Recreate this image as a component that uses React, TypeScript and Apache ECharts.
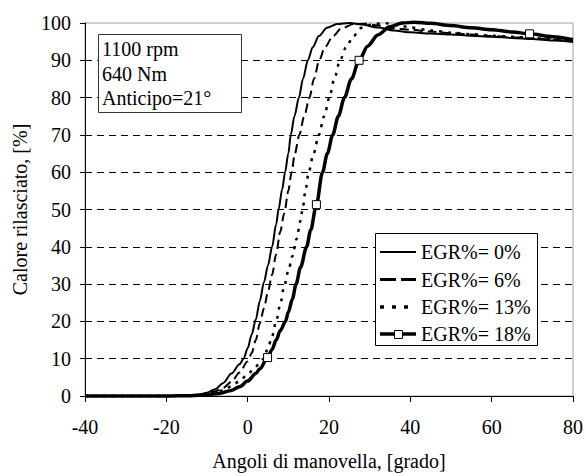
import React, { useEffect, useRef } from "react";
import * as echarts from "echarts";

const FAMILY = "Liberation Serif";

const seriesNames = ["EGR%= 0%", "EGR%= 6%", "EGR%= 13%", "EGR%= 18%"];

const egr0X = [-40, -30, -20, -15, -12, -10, -8, -6, -4, -2, -1, 0, 1, 2, 3, 4, 5, 6, 7, 7.6, 8.5, 9.2, 10, 10.6, 11.5, 12.6, 13.6, 14.8, 16, 17.5, 19.5, 22, 25, 28, 32, 36, 40, 45, 50, 55, 60, 65, 70, 75, 80];
const egr0Y = [0, 0, 0, 0.1, 0.4, 0.9, 1.8, 3.5, 6, 8.5, 10, 12.8, 16.5, 20.5, 25.5, 30.5, 35, 40, 46, 50, 55.5, 60, 65, 70, 75, 80, 85, 90, 93.5, 96.5, 98.7, 99.7, 100, 99.6, 98.8, 98, 97.5, 97.2, 96.9, 96.6, 96.3, 96, 95.7, 95.3, 94.9];

const egr6X = [-40, -20, -15, -12, -10, -8, -6, -4, -2, 0, 1, 2, 3, 4, 5, 6, 7, 8, 9, 10, 10.8, 11.6, 12.7, 13.9, 15.2, 16.3, 17.6, 19, 21, 23, 26, 29, 32, 36, 40, 45, 50, 55, 60, 65, 70, 75, 80];
const egr6Y = [0, 0, 0.1, 0.3, 0.6, 1.2, 2.2, 3.8, 6.3, 9.3, 11.5, 15, 19.5, 23.5, 28, 32.5, 38, 44, 49, 55, 60, 65, 70, 75, 80, 85, 90, 93.5, 96.5, 98.5, 99.7, 99.8, 99.3, 98.6, 98.2, 97.7, 97.3, 96.9, 96.5, 96.2, 95.9, 95.5, 95.1];

const egr13X = [-40, -20, -14, -10, -8, -6, -4, -2, 0, 2, 4, 5, 6, 7, 8, 9, 10, 11, 12, 13, 13.5, 14.2, 15, 16.2, 17.5, 18.8, 20.1, 21.3, 22.7, 24.2, 26, 28, 31, 34, 37, 40, 45, 50, 55, 60, 65, 70, 75, 80];
const egr13Y = [0, 0, 0.1, 0.5, 0.9, 1.6, 2.6, 4, 5.8, 8, 10, 13, 16, 20, 24.5, 29.5, 33.5, 37.5, 42, 47, 50, 55, 60, 65, 70, 75, 80, 85, 90, 93.5, 96.5, 98.7, 99.8, 99.9, 99.4, 98.8, 98, 97.4, 97, 96.6, 96.3, 96, 95.6, 95.3];

const egr18X = [-40, -20, -14, -10, -7, -4, -2, 0, 2, 3, 4.9, 6, 7, 8, 9.3, 10, 11, 11.9, 13, 14.5, 15.5, 16.9, 18.4, 19.6, 20.9, 22.3, 23.8, 25.5, 27.4, 29.5, 32, 35, 38, 41, 45, 50, 55, 60, 65, 69.3, 75, 80];
const egr18Y = [0, 0, 0.1, 0.3, 0.7, 1.5, 2.5, 4, 6, 7.3, 10.3, 12.5, 15, 17.5, 20, 22.5, 26, 30, 34.5, 40, 44.5, 51.3, 60, 65, 70, 75, 80, 85, 90, 93.8, 96.8, 99, 100, 100.2, 99.9, 99.3, 98.7, 98.2, 97.6, 97.1, 96.3, 95.5];
const egr18MarkerX = [4.9, 16.9, 27.4, 69.3];

const infoLines = ["1100 rpm", "640 Nm", "Anticipo=21°"];
const xAxisTitle = "Angoli di manovella, [grado]";
const yAxisTitle = "Calore rilasciato, [%]";

const lineDefs = [
  { width: 2, type: "solid" as any, legendType: null as any, legendWidth: 2 },
  { width: 2, type: [9, 5], legendType: [16, 5], legendWidth: 3 },
  { width: 2.5, type: [3, 6], legendType: [4, 8], legendWidth: 3.5 },
  { width: 3.5, type: "solid" as any, legendType: null as any, legendWidth: 3.5 },
];

export default function App() {
  const ref = useRef<HTMLDivElement>(null);
  useEffect(() => {
    const chart = echarts.init(ref.current!, null, { renderer: "svg" });
    const xs = [egr0X, egr6X, egr13X, egr18X];
    const ys = [egr0Y, egr6Y, egr13Y, egr18Y];

    const series = seriesNames.map((name, s) => ({
      name,
      type: "line",
      smooth: 0.3,
      smoothMonotone: "x",
      symbol: "none",
      clip: false,
      z: 2 + s,
      lineStyle: { color: "#000", width: lineDefs[s].width, type: lineDefs[s].type },
      itemStyle: { color: "#000" },
      data: xs[s].map((x, i) => {
        if (s === 3 && egr18MarkerX.includes(x)) {
          return {
            value: [x, ys[s][i]],
            symbol: "rect",
            symbolSize: 8,
            itemStyle: { color: "#fff", borderColor: "#000", borderWidth: 1 },
          };
        }
        return [x, ys[s][i]];
      }),
    }));

    const Z = 100;
    const legendTop = 233;
    const rowY = [252, 279.5, 307, 334];
    const legendEls: any[] = [
      {
        type: "rect",
        z: Z,
        shape: { x: 375.5, y: legendTop + 0.5, width: 162, height: 112 },
        style: { fill: "#fff", stroke: "#000", lineWidth: 1 },
      },
    ];
    seriesNames.forEach((name, s) => {
      legendEls.push({
        type: "line",
        z: Z + 1,
        shape: { x1: 380, y1: rowY[s], x2: 416, y2: rowY[s] },
        style: {
          stroke: "#000",
          lineWidth: lineDefs[s].legendWidth,
          lineDash: lineDefs[s].legendType,
        },
      });
      if (s === 3) {
        legendEls.push({
          type: "rect",
          z: Z + 2,
          shape: { x: 394.5, y: rowY[s] - 3.5, width: 8, height: 8 },
          style: { fill: "#fff", stroke: "#000", lineWidth: 1 },
        });
      }
      legendEls.push({
        type: "text",
        z: Z + 2,
        style: {
          text: name,
          x: 421,
          y: rowY[s],
          font: `20px ${FAMILY}`,
          fill: "#000",
          textAlign: "left",
          textVerticalAlign: "middle",
        },
      });
    });

    const infoEls: any[] = [
      {
        type: "rect",
        z: Z,
        shape: { x: 98.5, y: 34.5, width: 143, height: 78 },
        style: { fill: "#fff", stroke: "#333", lineWidth: 1 },
      },
      ...infoLines.map((t, i) => ({
        type: "text",
        z: Z + 1,
        style: {
          text: t,
          x: 102,
          y: 49 + i * 24.5,
          font: `20px ${FAMILY}`,
          fill: "#000",
          textAlign: "left",
          textVerticalAlign: "middle",
        },
      })),
    ];

    chart.setOption({
      animation: false,
      backgroundColor: "#fff",
      textStyle: { fontFamily: FAMILY },
      grid: {
        left: 85,
        right: 11,
        top: 23,
        bottom: 75,
        show: true,
        borderColor: "#a0a0a0",
        borderWidth: 1,
        backgroundColor: "transparent",
      },
      xAxis: {
        type: "value",
        min: -40,
        max: 80,
        interval: 20,
        name: xAxisTitle,
        nameLocation: "middle",
        nameGap: 55,
        nameTextStyle: { fontSize: 20, color: "#000", fontFamily: FAMILY },
        axisLine: { show: true, onZero: false, lineStyle: { color: "#000", width: 1 } },
        axisTick: { show: true, length: 6, lineStyle: { color: "#000" } },
        axisLabel: { fontSize: 20, color: "#000", margin: 21, fontFamily: FAMILY },
        splitLine: { show: false },
      },
      yAxis: {
        type: "value",
        min: 0,
        max: 100,
        interval: 10,
        name: yAxisTitle,
        nameLocation: "middle",
        nameGap: 52,
        nameTextStyle: { fontSize: 20, color: "#000", fontFamily: FAMILY },
        axisLine: { show: true, onZero: false, lineStyle: { color: "#000", width: 1 } },
        axisTick: { show: true, length: 5, lineStyle: { color: "#000" } },
        axisLabel: { fontSize: 20, color: "#000", margin: 14, fontFamily: FAMILY },
        splitLine: {
          show: true,
          showMinLine: false,
          showMaxLine: false,
          lineStyle: { color: "#000", width: 1, type: [7, 5] },
        },
      },
      series,
      graphic: [...infoEls, ...legendEls],
    });
    return () => chart.dispose();
  }, []);
  return (
    <div
      ref={ref}
      style={{ position: "absolute", left: 0, top: 0, width: 586, height: 476 }}
    />
  );
}
